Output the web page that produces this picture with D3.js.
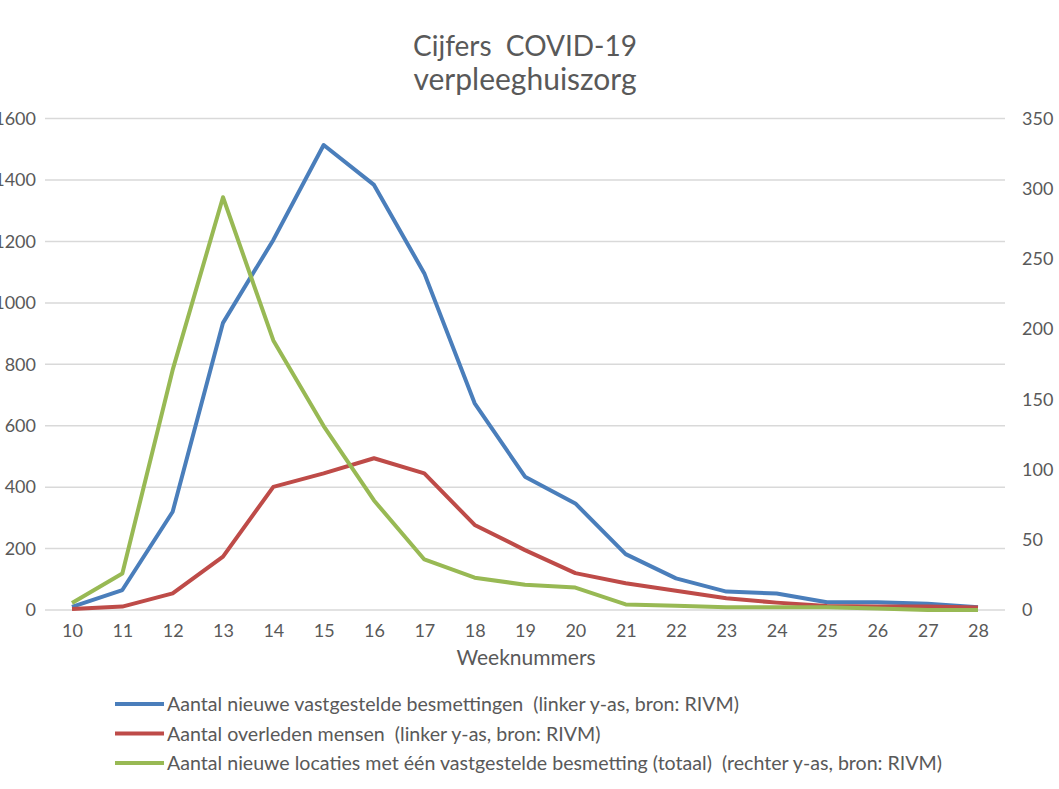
<!DOCTYPE html>
<html lang="nl">
<head>
<meta charset="UTF-8">
<title>Cijfers COVID-19 verpleeghuiszorg</title>
<script src="https://d3js.org/d3.v7.min.js"></script>
<style>
    body { margin: 0; background: #fff; }
    svg text { font-family: Lato, "Open Sans", sans-serif; fill: #595959; }
    .axis path, .axis line { display: none; }
    .grid line { stroke: #d9d9d9; stroke-width: 1.5; }
</style>
</head>
<body>
<svg width="1059" height="789"></svg>
<script>
    // weeknummers en waarden
    var weeks = [10, 11, 12, 13, 14, 15, 16, 17, 18, 19, 20, 21, 22, 23, 24, 25, 26, 27, 28];
    var besmettingen = [10, 65, 320, 935, 1205, 1514, 1384, 1096, 673, 434, 347, 182, 103, 60, 54, 25, 25, 20, 9];
    var overleden = [3, 11, 54, 174, 401, 445, 494, 445, 277, 195, 120, 87, 63, 38, 24, 13, 11, 11, 8];
    var locaties = [5, 26, 171, 294, 192, 131, 78, 36, 23, 18, 16, 4, 3, 2, 2, 2, 1, 0, 0];

    var leftTicks = [0, 200, 400, 600, 800, 1000, 1200, 1400, 1600];
    var rightTicks = [0, 50, 100, 150, 200, 250, 300, 350];

    var legendLabels = [
        "Aantal nieuwe vastgestelde besmettingen  (linker y-as, bron: RIVM)",
        "Aantal overleden mensen  (linker y-as, bron: RIVM)",
        "Aantal nieuwe locaties met één vastgestelde besmetting (totaal)  (rechter y-as, bron: RIVM)"
    ];
    var colors = ["#4a7ebb", "#be4b48", "#98b954"];

    var svg = d3.select("svg");

    var x = d3.scalePoint().domain(weeks).range([72, 978]);
    var yL = d3.scaleLinear().domain([0, 1600]).range([610, 118.6]);
    var yR = d3.scaleLinear().domain([0, 350]).range([610, 118.6]);

    // gridlijnen
    svg.append("g")
        .attr("class", "grid")
        .selectAll("line")
        .data(leftTicks)
        .enter().append("line")
        .attr("x1", 45)
        .attr("x2", 1005)
        .attr("y1", d => yL(d))
        .attr("y2", d => yL(d));

    // assen
    svg.append("g")
        .attr("class", "axis")
        .attr("transform", "translate(45,0)")
        .call(d3.axisLeft(yL).tickValues(leftTicks).tickFormat(d3.format("d")).tickSize(0).tickPadding(9))
        .selectAll("text")
        .style("font-size", "18px");

    svg.append("g")
        .attr("class", "axis")
        .attr("transform", "translate(1005,0)")
        .call(d3.axisRight(yR).tickValues(rightTicks).tickFormat(d3.format("d")).tickSize(0).tickPadding(17))
        .selectAll("text")
        .style("font-size", "18px");

    svg.append("g")
        .attr("class", "axis")
        .attr("transform", "translate(0,610)")
        .call(d3.axisBottom(x).tickSize(0).tickPadding(14))
        .selectAll("text")
        .style("font-size", "18px");

    // lijnen
    var seriesList = [
        { values: besmettingen, y: yL },
        { values: overleden, y: yL },
        { values: locaties, y: yR }
    ];

    seriesList.forEach((s, i) => {
        var line = d3.line()
            .x((d, j) => x(weeks[j]))
            .y(d => s.y(d));
        svg.append("path")
            .datum(s.values)
            .attr("d", line)
            .attr("fill", "none")
            .attr("stroke", colors[i])
            .attr("stroke-width", 4)
            .attr("stroke-linejoin", "round");
    });

    // titel
    svg.append("text")
        .attr("x", 525)
        .attr("y", 56)
        .attr("text-anchor", "middle")
        .style("font-size", "28px")
        .style("white-space", "pre")
        .text("Cijfers  COVID-19");

    svg.append("text")
        .attr("x", 525)
        .attr("y", 90)
        .attr("text-anchor", "middle")
        .style("font-size", "30px")
        .text("verpleeghuiszorg");

    svg.append("text")
        .attr("x", 526)
        .attr("y", 665)
        .attr("text-anchor", "middle")
        .style("font-size", "21px")
        .text("Weeknummers");

    // legenda
    var legend = svg.append("g");
    legendLabels.forEach((label, i) => {
        var ly = 704 + i * 29.5;
        legend.append("line")
            .attr("x1", 115)
            .attr("x2", 164)
            .attr("y1", ly)
            .attr("y2", ly)
            .attr("stroke", colors[i])
            .attr("stroke-width", 4);
        legend.append("text")
            .attr("x", 167)
            .attr("y", ly + 7)
            .style("font-size", "19.6px")
            .style("white-space", "pre")
            .text(label);
    });
</script>
</body>
</html>
